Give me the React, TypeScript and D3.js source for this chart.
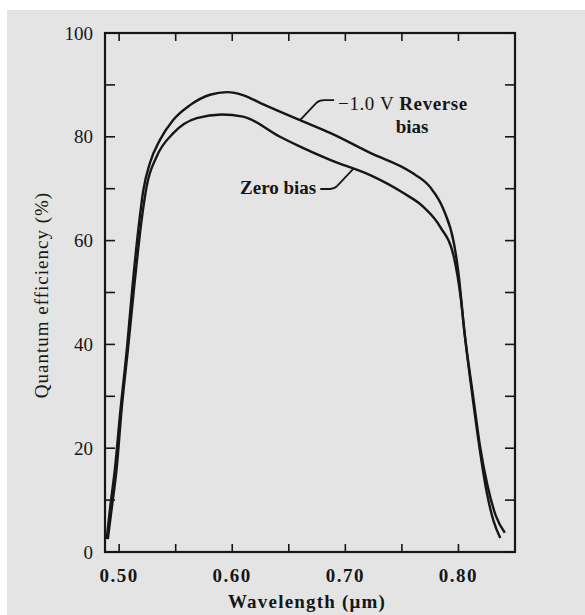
import React from "react";
import * as d3 from "d3";

// Quantum efficiency vs wavelength of a photodiode at two bias conditions
const reverseWavelength = [0.489, 0.492, 0.4965, 0.501, 0.507, 0.5115, 0.5169, 0.5214, 0.5273, 0.5361, 0.5476, 0.5627, 0.5804, 0.5954, 0.61, 0.625, 0.66, 0.687, 0.722, 0.758, 0.775, 0.787, 0.796, 0.8, 0.805, 0.813, 0.819, 0.826, 0.833, 0.841];
const reverseQE = [2.5, 8.5, 16.5, 27, 39.5, 50.5, 62, 69.7, 75, 79.4, 83.2, 86.1, 88.1, 88.6, 88.0, 86.5, 83.2, 80.7, 76.9, 73.2, 70.3, 65.9, 59.5, 53.8, 43, 30, 20.5, 12.5, 7, 3.7];

const zeroWavelength = [0.49, 0.4935, 0.498, 0.502, 0.508, 0.5135, 0.5199, 0.5243, 0.5332, 0.5479, 0.5686, 0.5907, 0.6095, 0.6422, 0.66, 0.687, 0.722, 0.751, 0.769, 0.784, 0.796, 0.802, 0.806, 0.813, 0.819, 0.825, 0.831, 0.837];
const zeroQE = [2.5, 8.5, 16.5, 27, 39.5, 51.5, 64, 70.4, 76.2, 80.7, 83.6, 84.3, 83.9, 80, 78.1, 75.5, 72.6, 69.2, 66.5, 62.6, 56.8, 49, 41, 29, 19.5, 11.5, 6, 2.7];

const xTicks = [0.5, 0.55, 0.6, 0.65, 0.7, 0.75, 0.8];
const xTickLabels = ["0.50", "0.60", "0.70", "0.80"];
const yTicks = [0, 10, 20, 30, 40, 50, 60, 70, 80, 90, 100];
const yTickLabels = ["0", "20", "40", "60", "80", "100"];

// label anchors on each curve: [wavelength, QE]
const reverseLabelAnchor = [0.66, 83.2];
const zeroLabelAnchor = [0.707, 73.8];

const W = 585;
const H = 615;
const left = 105;
const right = 515;
const top = 33;
const bottom = 552;

export default function App() {
  const x = d3.scaleLinear().domain([0.4875, 0.85]).range([left, right]);
  const y = d3.scaleLinear().domain([0, 100]).range([bottom, top]);

  const line = d3
    .line<[number, number]>()
    .x((d) => x(d[0]))
    .y((d) => y(d[1]))
    .curve(d3.curveMonotoneX);

  const reversePts = reverseWavelength.map((w, i) => [w, reverseQE[i]] as [number, number]);
  const zeroPts = zeroWavelength.map((w, i) => [w, zeroQE[i]] as [number, number]);

  const font = "'Liberation Serif', 'Times New Roman', serif";
  const ink = "#161616";

  const rax = x(reverseLabelAnchor[0]);
  const ray = y(reverseLabelAnchor[1]);
  const zax = x(zeroLabelAnchor[0]);
  const zay = y(zeroLabelAnchor[1]);

  return (
    <svg
      width={W}
      height={H}
      style={{ position: "absolute", left: 0, top: 0, display: "block" }}
      fontFamily={font}
    >
      <rect x={0} y={0} width={W} height={H} fill="#ffffff" />
      <rect x={7} y={10} width={W - 7} height={H - 10} fill="#e4e4e4" />

      {/* frame */}
      <rect
        x={left}
        y={top}
        width={right - left}
        height={bottom - top}
        fill="none"
        stroke={ink}
        strokeWidth={2.2}
      />

      {/* x ticks, bottom and top, pointing inward */}
      {xTicks.map((t) => (
        <g key={"xt" + t}>
          <line x1={x(t)} x2={x(t)} y1={bottom} y2={bottom - 8} stroke={ink} strokeWidth={1.6} />
          <line x1={x(t)} x2={x(t)} y1={top} y2={top + 8} stroke={ink} strokeWidth={1.6} />
        </g>
      ))}
      {xTickLabels.map((l) => (
        <text
          key={"xl" + l}
          x={x(+l)}
          y={582}
          textAnchor="middle"
          fontSize={19}
          fontWeight="bold"
          letterSpacing={1.5}
          fill={ink}
        >
          {l}
        </text>
      ))}

      {/* y ticks, left and right, pointing inward */}
      {yTicks.map((t) => (
        <g key={"yt" + t}>
          <line x1={left} x2={left + 10} y1={y(t)} y2={y(t)} stroke={ink} strokeWidth={1.6} />
          <line x1={right} x2={right - 10} y1={y(t)} y2={y(t)} stroke={ink} strokeWidth={1.6} />
        </g>
      ))}
      {yTickLabels.map((l) => (
        <text
          key={"yl" + l}
          x={93}
          y={y(+l)}
          dy="0.35em"
          textAnchor="end"
          fontSize={19}
          fill={ink}
        >
          {l}
        </text>
      ))}

      {/* axis titles */}
      <text
        x={307}
        y={608}
        textAnchor="middle"
        fontSize={19}
        fontWeight="bold"
        letterSpacing={1.2}
        fill={ink}
      >
        Wavelength (μm)
      </text>
      <text
        transform={`translate(48, 295) rotate(-90)`}
        textAnchor="middle"
        fontSize={19}
        letterSpacing={1}
        fill={ink}
      >
        Quantum efficiency (%)
      </text>

      {/* curves */}
      <path d={line(reversePts) ?? ""} fill="none" stroke={ink} strokeWidth={2.4} />
      <path d={line(zeroPts) ?? ""} fill="none" stroke={ink} strokeWidth={2.4} />

      {/* reverse bias label with leader */}
      <path
        d={`M${rax},${ray} L${rax + 16},${ray - 17} Q${rax + 19},${ray - 20} ${rax + 24},${ray - 20} L${rax + 34},${ray - 20}`}
        fill="none"
        stroke={ink}
        strokeWidth={1.8}
      />
      <text x={rax + 38} y={ray - 10} fontSize={19} fill={ink} letterSpacing={0.6}>
        <tspan>−1.0 V </tspan>
        <tspan fontWeight="bold">Reverse</tspan>
      </text>
      <text x={rax + 112} y={ray + 13} fontSize={19} fontWeight="bold" textAnchor="middle" fill={ink}>
        bias
      </text>

      {/* zero bias label with leader */}
      <path
        d={`M${zax},${zay} L${zax - 16},${zay + 17} Q${zax - 19},${zay + 20} ${zax - 23},${zay + 20} L${zax - 33},${zay + 20}`}
        fill="none"
        stroke={ink}
        strokeWidth={1.8}
      />
      <text x={zax - 37} y={zay + 25} fontSize={19} fontWeight="bold" textAnchor="end" fill={ink}>
        Zero bias
      </text>
    </svg>
  );
}
